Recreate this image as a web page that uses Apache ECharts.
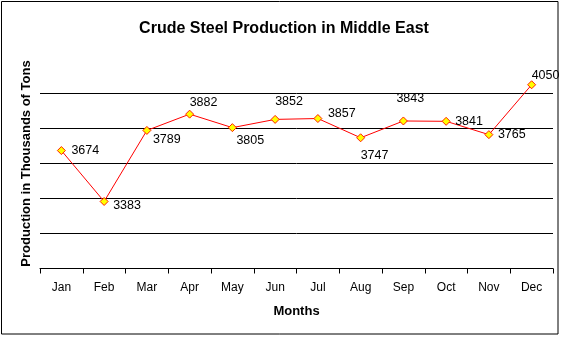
<!DOCTYPE html>
<html>
<head>
<meta charset="utf-8">
<script src="https://cdn.jsdelivr.net/npm/echarts@6/dist/echarts.min.js"></script>
<style>html,body{margin:0;padding:0;background:#fff;}#c{width:567px;height:339px;}</style>
</head>
<body>
<div id="c"></div>
<script>
const months = ['Jan','Feb','Mar','Apr','May','Jun','Jul','Aug','Sep','Oct','Nov','Dec'];
const production = [3674, 3383, 3789, 3882, 3805, 3852, 3857, 3747, 3843, 3841, 3765, 4050];
// label placement (dx from point to label left edge, dy from point to label middle)
const labelOffsets = [[10,0],[9,4],[6,9],[0,-12],[4,13],[0,-18],[10,-5],[0,18],[-7,-22],[9,0],[9,0],[0,-9]];

const FONT = '"Liberation Sans", Arial, sans-serif';
const chart = echarts.init(document.getElementById('c'));
chart.setOption({
  animation: false,
  backgroundColor: '#fff',
  title: {
    text: 'Crude Steel Production in Middle East',
    left: 279, top: 16, textAlign: 'center',
    textStyle: { fontFamily: FONT, fontSize: 16, fontWeight: 'bold', color: '#000' }
  },
  graphic: [
    { type: 'rect', shape: { x: 1.5, y: 1.5, width: 556.5, height: 332.5 }, style: { fill: null, stroke: '#000', lineWidth: 1 }, silent: true }
  ],
  grid: { left: 40, right: 14, top: 58.5, bottom: 70.5 },
  xAxis: {
    type: 'category',
    data: months,
    boundaryGap: true,
    name: 'Months',
    nameLocation: 'middle',
    nameGap: 36,
    nameTextStyle: { fontFamily: FONT, fontSize: 13, fontWeight: 'bold', color: '#000' },
    axisLine: { lineStyle: { color: '#000', width: 1 } },
    axisTick: { show: true, length: 5, lineStyle: { color: '#000' } },
    axisLabel: { fontFamily: FONT, fontSize: 12, color: '#000', margin: 13 },
    splitLine: { show: false }
  },
  yAxis: {
    type: 'value',
    min: 3000, max: 4200, interval: 200,
    name: 'Production in Thousands of Tons',
    nameLocation: 'middle',
    nameGap: 7,
    nameTextStyle: { fontFamily: FONT, fontSize: 13, fontWeight: 'bold', color: '#000' },
    axisLine: { show: false },
    axisTick: { show: false },
    axisLabel: { show: false },
    splitLine: { show: true, showMaxLine: false, lineStyle: { color: '#000', width: 1 } }
  },
  series: [{
    type: 'line',
    data: production.map((v, i) => ({
      value: v,
      label: { offset: labelOffsets[i] }
    })),
    lineStyle: { color: '#FF0000', width: 1 },
    symbol: 'diamond',
    symbolSize: 8,
    itemStyle: { color: '#FFFF00', borderColor: '#FF2000', borderWidth: 1 },
    label: {
      show: true,
      position: 'inside',
      align: 'left',
      verticalAlign: 'middle',
      fontFamily: FONT,
      fontSize: 12.5,
      color: '#000'
    },
    z: 3
  }]
});
</script>
</body>
</html>
